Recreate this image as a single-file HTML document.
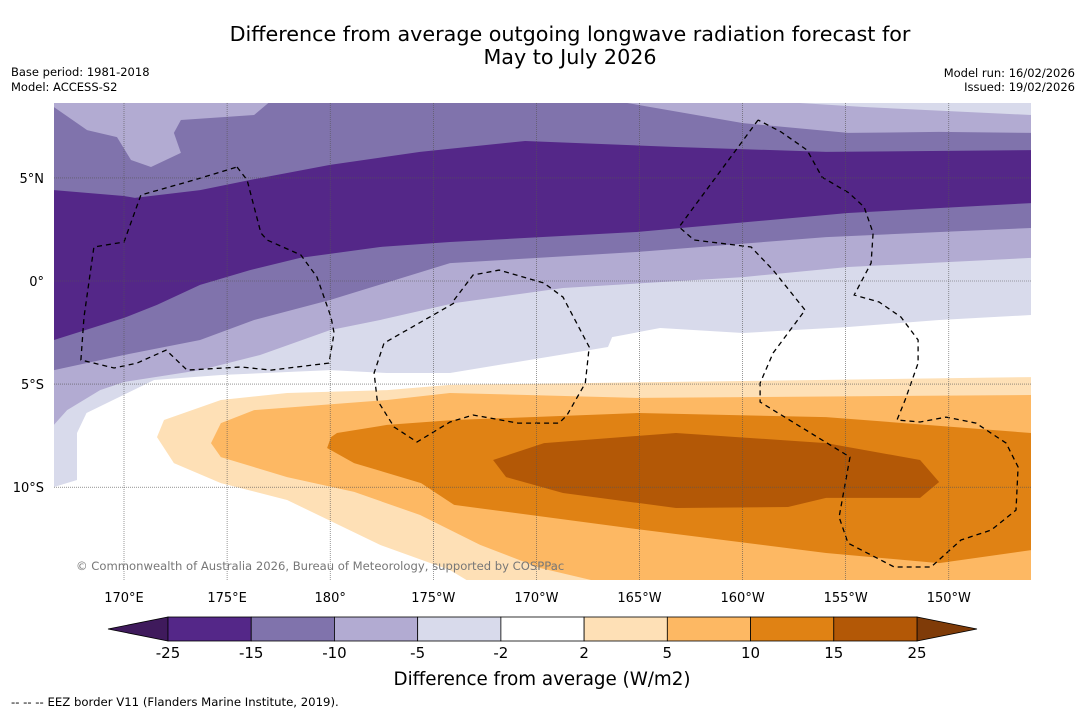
<!DOCTYPE html>
<html><head><meta charset="utf-8">
<style>
body{margin:0;background:#fff;width:1085px;height:713px;overflow:hidden;font-family:"DejaVu Sans","Liberation Sans",sans-serif;}
svg{display:block;font-family:"DejaVu Sans","Liberation Sans",sans-serif;}
</style></head>
<body>
<svg id="c" width="1085" height="713" xmlns="http://www.w3.org/2000/svg">
<text x="570" y="41" font-size="20.7" text-anchor="middle">Difference from average outgoing longwave radiation forecast for</text>
<text x="570" y="64" font-size="20.7" text-anchor="middle">May to July 2026</text>
<text x="11" y="76" font-size="11.5">Base period: 1981-2018</text>
<text x="11" y="91" font-size="11.5">Model: ACCESS-S2</text>
<text x="1075" y="77" font-size="11.5" text-anchor="end">Model run: 16/02/2026</text>
<text x="1075" y="91" font-size="11.5" text-anchor="end">Issued: 19/02/2026</text>
<g id="map"></g>
<g id="cb"></g>
<text x="542" y="685" font-size="18.3" text-anchor="middle">Difference from average (W/m2)</text>
<text x="11" y="706" font-size="11.7">--  --  -- EEZ border V11 (Flanders Marine Institute, 2019).</text>
</svg>
<script>
const levels=["-25","-15","-10","-5","-2","2","5","10","15","25"];
const colors=["#542788","#8073ac","#b2abd2","#d8daeb","#ffffff","#fee0b6","#fdb863","#e08214","#b35806"];
const extColors=["#3f1a5c","#7f3b08"];
const lonTicks=[170,175,180,185,190,195,200,205,210];
const lonLabels=["170°E","175°E","180°","175°W","170°W","165°W","160°W","155°W","150°W"];
const latTicks=[5,0,-5,-10];
const latLabels=["5°N","0°","5°S","10°S"];
// contour band polygons in [lon(0-360), lat]
const bandLavLight=[[166.6,-9.99],[167.72,-9.65],[167.72,-7.37],[168.18,-6.40],[171.46,-4.80],[174.70,-4.56],[179.99,-4.32],[182.76,-4.46],[185.81,-4.46],[193.47,-3.20],[193.67,-2.72],[196.0,-2.28],[200.02,-2.52],[205.11,-2.23],[209.53,-1.89],[214,-1.65],[214,8.7],[166.6,8.7]];
const bandLav=[[166.6,-6.98],[167.24,-6.26],[168.84,-5.29],[170,-4.90],[173.69,-4.32],[176.6,-3.59],[179.99,-2.38],[182.42,-1.89],[186.01,-1.07],[191.29,-0.34],[200.02,0.19],[205.11,0.68],[214,1.12],[214,8.7],[166.6,8.7]];
const bandMid=[[166.6,-4.32],[170,-3.59],[173.69,-2.86],[176.31,-1.89],[179.99,-0.92],[185.81,0.87],[194.93,1.41],[204.05,2.13],[214,2.57],[214,8.7],[166.6,8.7]];
const bandDeep=[[166.6,-2.86],[170,-1.79],[171.6,-1.16],[173.69,-0.19],[176.11,0.53],[178.54,1.12],[182.42,1.65],[185.81,1.89],[194.93,2.38],[205.11,3.30],[214,3.78],[214,6.35],[204.05,6.26],[196.77,6.50],[189.45,6.79],[184.36,6.26],[179.99,5.63],[176.11,4.90],[173.69,4.41],[170.53,4.03],[170,4.12],[166.6,4.41]];
const patchTL=[[166.6,8.44],[168.21,7.32],[169.66,6.98],[170.34,5.87],[171.31,5.53],[172.76,6.21],[172.42,7.18],[172.76,7.81],[176.31,8.05],[177.08,8.7],[166.6,8.7]];
const patchTR=[[194.01,8.7],[200.02,7.66],[205.11,7.18],[209.53,7.23],[214,7.18],[214,8.7]];
const patchTR2=[[201.67,8.7],[205.89,8.44],[214,8.05],[214,8.7]];
const bandO1=[[214,-4.66],[185.81,-5.04],[182.76,-5.29],[177.91,-5.43],[174.7,-5.77],[171.94,-6.74],[171.6,-7.57],[172.42,-8.83],[174.7,-9.80],[177.91,-10.62],[182.42,-12.80],[185.81,-14.02],[186.78,-14.6],[214,-14.6]];
const bandO2=[[214,-5.53],[194.93,-5.67],[185.81,-5.43],[182.76,-5.77],[176.31,-6.26],[174.7,-6.89],[174.22,-7.86],[174.7,-8.54],[177.91,-9.51],[181.16,-10.23],[184.36,-11.35],[187.27,-12.80],[190.18,-13.92],[193.08,-14.6],[214,-14.6]];
const bandO3=[[214,-7.37],[204.05,-6.60],[194.93,-6.40],[185.99,-6.74],[182.76,-6.98],[180.33,-7.37],[180.04,-7.57],[179.85,-8.10],[181.16,-8.83],[184.41,-9.80],[186.01,-10.86],[194.93,-12.04],[204.05,-13.19],[209.53,-13.68],[214,-13.05]];
const bandO4=[[187.9,-8.68],[190.37,-7.86],[196.77,-7.37],[204.05,-7.86],[208.61,-8.68],[209.53,-9.75],[208.61,-10.52],[204.05,-10.52],[202.2,-10.96],[196.77,-11.01],[191.29,-10.28],[188.53,-9.51]];
const eez=[
[[175.48,5.53],[175.97,4.90],[176.64,2.33],[176.94,1.99],[178.58,1.26],[179.36,0.19],[180.04,-1.75],[180.19,-2.52],[179.94,-3.98],[177.13,-4.32],[175.67,-4.17],[173.06,-4.32],[172.04,-3.35],[170.63,-3.98],[169.52,-4.22],[167.91,-3.83],[168.06,-1.75],[168.54,1.65],[170,1.89],[170.82,4.17],[173.4,4.90],[175.48,5.53]],
[[186.01,-0.92],[186.93,0.29],[188.19,0.53],[190.37,-0.10],[191.29,-0.78],[192.56,-3.20],[192.37,-4.95],[191.49,-6.50],[191.1,-6.89],[189.11,-6.89],[186.93,-6.50],[185.81,-6.84],[184.21,-7.81],[183.1,-7.08],[182.28,-5.77],[182.13,-4.46],[182.61,-3.01],[186.01,-1.07]],
[[200.75,7.81],[196.92,2.62],[197.65,1.99],[200.41,1.65],[201.48,0.53],[203.03,-1.41],[201.48,-3.49],[200.85,-4.95],[200.85,-5.87],[205.21,-8.54],[204.68,-11.45],[205.11,-12.71],[207.35,-13.87],[209.14,-13.87],[210.59,-12.56],[212.05,-12.08],[213.26,-11.11],[213.36,-9.02],[212.78,-7.86],[211.32,-6.89],[209.87,-6.60],[208.61,-6.84],[207.49,-6.74],[207.88,-5.77],[208.51,-3.98],[208.51,-2.86],[207.68,-1.75],[206.62,-1.02],[205.41,-0.68],[206.23,0.87],[206.33,2.33],[205.89,3.59],[205.16,4.27],[203.85,5.04],[203.13,6.35],[201.86,7.23],[200.75,7.81]]
];
const NS="http://www.w3.org/2000/svg";
const X0=54,X1=1031,Y0=103,Y1=580;
const xS=lon=>124+(lon-170)*20.62;
const yS=lat=>281-lat*20.62;
const map=document.getElementById('map');
function el(t,a,p){const e=document.createElementNS(NS,t);for(const k in a)e.setAttribute(k,a[k]);(p||map).appendChild(e);return e;}
function pts(arr){return arr.map(p=>xS(p[0]).toFixed(1)+","+yS(p[1]).toFixed(1)).join(" ");}
const defs=el('defs',{});
const cp=el('clipPath',{id:'mc'},defs);el('rect',{x:X0,y:Y0,width:X1-X0,height:Y1-Y0},cp);
const g=el('g',{'clip-path':'url(#mc)'});
const bg=el('rect',{x:X0,y:Y0,width:X1-X0,height:Y1-Y0,fill:'#fff'},g);


const bands=[[bandLavLight,colors[3],'band-minus5'],[bandLav,colors[2],'band-minus10'],[bandMid,colors[1],'band-minus15'],[patchTL,colors[2],'patch-minus10-nw'],[patchTR,colors[2],'patch-minus10-ne'],[patchTR2,colors[3],'patch-minus5-ne'],[bandDeep,colors[0],'band-minus25'],[bandO1,colors[5],'band-plus2'],[bandO2,colors[6],'band-plus5'],[bandO3,colors[7],'band-plus10'],[bandO4,colors[8],'band-plus15']];
bands.forEach(b=>{const p=el('polygon',{points:pts(b[0]),fill:b[1]},g);

});
eez.forEach((l,i)=>{const p=el('polyline',{points:pts(l),fill:'none',stroke:'#000','stroke-width':1.3,'stroke-dasharray':'5,4'},g);

});
lonTicks.forEach((lo,i)=>{const x=xS(lo);
const l=el('line',{x1:x,x2:x,y1:Y0,y2:Y1,stroke:'#555','stroke-width':0.6,'stroke-dasharray':'1,1'},g);


const t=el('text',{x:x,y:602,'font-size':13,'text-anchor':'middle'});t.textContent=lonLabels[i];

});
latTicks.forEach((la,i)=>{const y=yS(la);
const l=el('line',{x1:X0,x2:X1,y1:y,y2:y,stroke:'#555','stroke-width':0.6,'stroke-dasharray':'1,1'},g);


const t=el('text',{x:44,y:y+5,'font-size':13,'text-anchor':'end'});t.textContent=latLabels[i];

});
const cr=el('text',{x:76,y:570,'font-size':11.6,fill:'#777'});cr.textContent='© Commonwealth of Australia 2026, Bureau of Meteorology, supported by COSPPac';


// colorbar
const cb=document.getElementById('cb');
const CB0=168,CB1=917,CBY=617,CBH=24,w=(CB1-CB0)/colors.length;
const lt=el('polygon',{points:`108,${CBY+CBH/2} ${CB0},${CBY} ${CB0},${CBY+CBH}`,fill:extColors[0],stroke:'#000','stroke-width':0.8},cb);


const rt=el('polygon',{points:`977,${CBY+CBH/2} ${CB1},${CBY} ${CB1},${CBY+CBH}`,fill:extColors[1],stroke:'#000','stroke-width':0.8},cb);


colors.forEach((c,i)=>{const r=el('rect',{x:CB0+i*w,y:CBY,width:w,height:CBH,fill:c,stroke:'#000','stroke-width':0.8},cb);

});
levels.forEach((lv,i)=>{const t=el('text',{x:CB0+i*w,y:658,'font-size':15,'text-anchor':'middle'},cb);t.textContent=lv;

});
</script>
</body></html>
